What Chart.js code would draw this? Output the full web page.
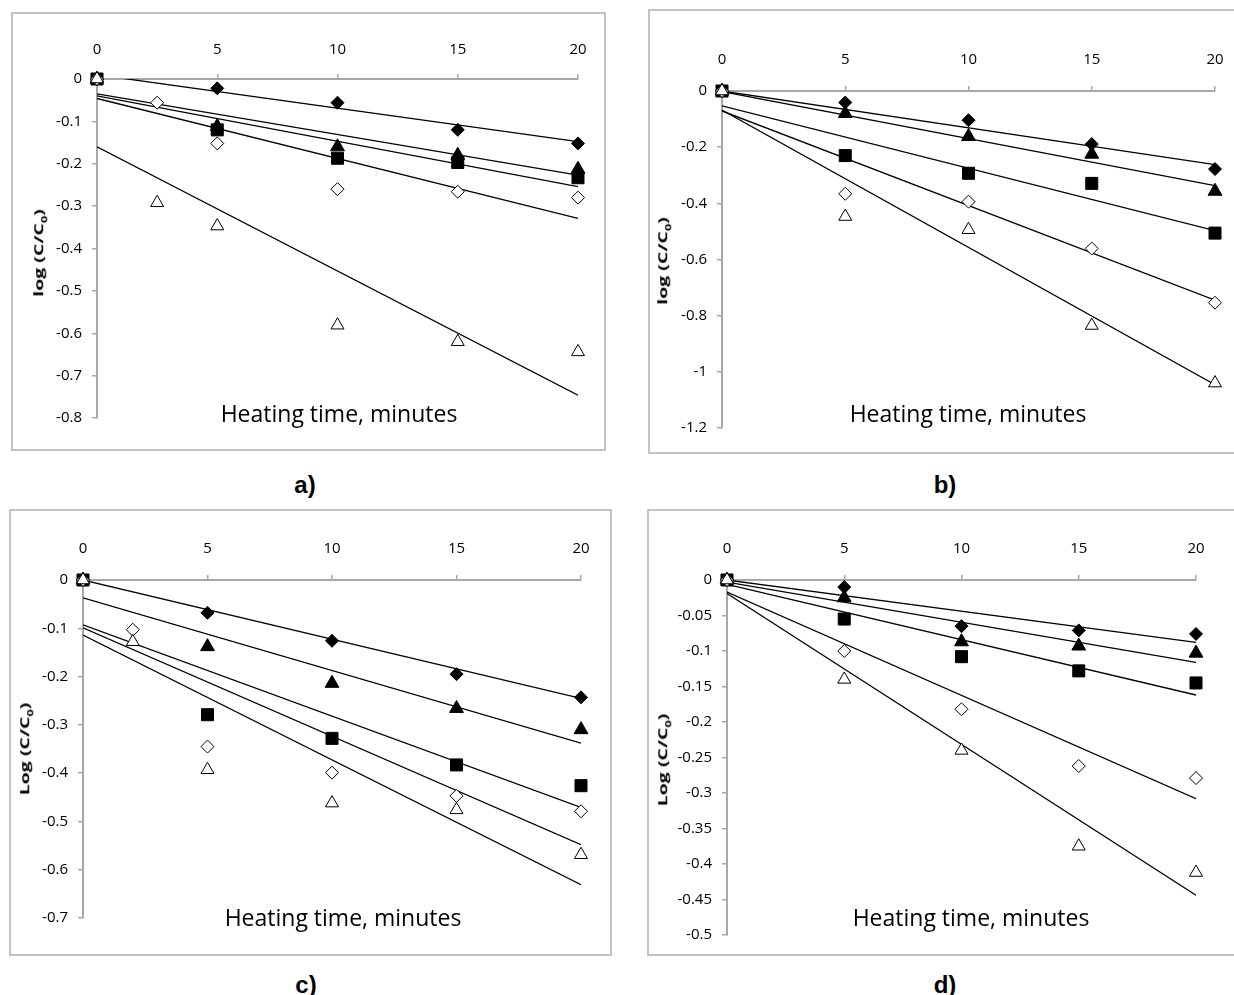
<!DOCTYPE html>
<html>
<head>
<meta charset="utf-8">
<script src="https://cdn.jsdelivr.net/npm/chart.js@4.4.1/dist/chart.umd.min.js"></script>
<style>
  html, body { margin: 0; padding: 0; background: #fff; overflow: hidden; }
  body { width: 1234px; height: 995px; position: relative; font-family: 'Open Sans', sans-serif; }
  .panel { position: absolute; border: 2px solid #c3c3c3; box-sizing: border-box; background: #fff; }
  .panel canvas { position: absolute; left: 0; top: 0; }
  .xtitle { position: absolute; font-size: 23px; color: #000; white-space: nowrap; transform: translate(-50%, -50%); }
  .ytitle { position: absolute; font: bold 13px 'Open Sans', sans-serif; color: #000; white-space: nowrap;
            transform: translate(-50%, -50%) rotate(-90deg) scaleX(1.5); }
  .ytitle sub { font-size: 8.5px; }
  .tag { position: absolute; font: bold 24px 'Liberation Sans', Arial, sans-serif; color: #000; transform: translate(-50%, -50%); }
</style>
</head>
<body>
<script>
// heating time (min)
const timeMain = [0, 5, 10, 15, 20];
const timeA = [0, 2.5, 5, 10, 15, 20];
const timeC = [0, 2, 5, 10, 15, 20];
const fitX = [0, 20];

// panel a) log(C/C0)
const aDiamond = [0, -0.022, -0.056, -0.120, -0.152];
const aTriangle = [0, -0.112, -0.160, -0.180, -0.213];
const aSquare = [0, -0.120, -0.187, -0.197, -0.233];
const aOpenDiamond = [0, -0.056, -0.152, -0.260, -0.266, -0.280];
const aOpenTriangle = [0, -0.292, -0.347, -0.581, -0.620, -0.644];
const aFitStart = [0.010, -0.035, -0.040, -0.046, -0.160];
const aFitEnd = [-0.148, -0.227, -0.254, -0.329, -0.746];

// panel b)
const bDiamond = [0, -0.041, -0.104, -0.189, -0.278];
const bTriangle = [0, -0.080, -0.162, -0.225, -0.357];
const bSquare = [0, -0.230, -0.293, -0.329, -0.506];
const bOpenDiamond = [0, -0.366, -0.394, -0.561, -0.754];
const bOpenTriangle = [0, -0.447, -0.494, -0.835, -1.040];
const bFitStart = [0.000, -0.002, -0.053, -0.071, -0.068];
const bFitEnd = [-0.262, -0.337, -0.497, -0.745, -1.046];

// panel c)
const cDiamond = [0, -0.068, -0.126, -0.195, -0.243];
const cTriangle = [0, -0.138, -0.214, -0.266, -0.310];
const cSquare = [0, -0.279, -0.328, -0.383, -0.426];
const cOpenDiamond = [0, -0.103, -0.345, -0.399, -0.447, -0.479];
const cOpenTriangle = [0, -0.128, -0.393, -0.462, -0.476, -0.569];
const cFitStart = [0.000, -0.037, -0.093, -0.099, -0.114];
const cFitEnd = [-0.245, -0.338, -0.471, -0.548, -0.631];

// panel d)
const dDiamond = [0, -0.010, -0.065, -0.071, -0.076];
const dTriangle = [0, -0.025, -0.087, -0.093, -0.103];
const dSquare = [0, -0.055, -0.108, -0.128, -0.145];
const dOpenDiamond = [0, -0.100, -0.182, -0.262, -0.279];
const dOpenTriangle = [0, -0.140, -0.240, -0.375, -0.412];
const dFitStart = [0.000, -0.003, -0.006, -0.017, -0.019];
const dFitEnd = [-0.088, -0.116, -0.162, -0.308, -0.444];

const seriesNames = ["filled diamond", "filled triangle", "filled square", "open diamond", "open triangle"];
const xTitleText = "Heating time, minutes";

const markers = [
  { style: "rectRot", radius: 6.5, fill: "#000", order: 4 },
  { style: "triangle", radius: 8, fill: "#000", order: 3 },
  { style: "rect", radius: 8.5, fill: "#000", order: 2 },
  { style: "rectRot", radius: 6.5, fill: "#fff", order: 1 },
  { style: "triangle", radius: 7.5, fill: "#fff", order: 0 },
];

const axisColor = "#a8a8a8";
const tickFont = { family: "'Open Sans', sans-serif", size: 15 };

const panels = [
  { tag: "a)", yWord: "log", box: [11, 12, 606, 451], area: [97, 79, 578, 418], yMin: -0.8, yStep: 0.1,
    series: [aDiamond, aTriangle, aSquare, aOpenDiamond, aOpenTriangle],
    times: [timeMain, timeMain, timeMain, timeA, timeA],
    fitStart: aFitStart, fitEnd: aFitEnd, xPad: 15,
    yTitleAt: [39, 253], xTitleAt: [339, 413], tagAt: [305, 485] },
  { tag: "b)", yWord: "log", box: [648, 9, 1270, 454], area: [722, 91, 1215, 428], yMin: -1.2, yStep: 0.2,
    series: [bDiamond, bTriangle, bSquare, bOpenDiamond, bOpenTriangle],
    times: [timeMain, timeMain, timeMain, timeMain, timeMain],
    fitStart: bFitStart, fitEnd: bFitEnd, xPad: 17,
    yTitleAt: [663, 261], xTitleAt: [968, 413], tagAt: [945, 485] },
  { tag: "c)", yWord: "Log", box: [9, 509, 612, 956], area: [83, 580, 581, 918], yMin: -0.7, yStep: 0.1,
    series: [cDiamond, cTriangle, cSquare, cOpenDiamond, cOpenTriangle],
    times: [timeMain, timeMain, timeMain, timeC, timeC],
    fitStart: cFitStart, fitEnd: cFitEnd, xPad: 17,
    yTitleAt: [25, 749], xTitleAt: [343, 917], tagAt: [306, 985] },
  { tag: "d)", yWord: "Log", box: [647, 509, 1270, 956], area: [727, 580, 1196, 940], yMin: -0.5, yStep: 0.05,
    series: [dDiamond, dTriangle, dSquare, dOpenDiamond, dOpenTriangle],
    times: [timeMain, timeMain, timeMain, timeMain, timeMain],
    fitStart: dFitStart, fitEnd: dFitEnd, xPad: 17,
    yTitleAt: [663, 760], xTitleAt: [971, 917], tagAt: [945, 985] },
];

function addText(cls, html, at) {
  const el = document.createElement("div");
  el.className = cls;
  el.innerHTML = html;
  el.style.left = at[0] + "px";
  el.style.top = at[1] + "px";
  document.body.appendChild(el);
}

panels.forEach((p) => {
  const [x0, y0, x1, y1] = p.box;
  const [L, T, R, B] = p.area;
  const div = document.createElement("div");
  div.className = "panel";
  div.style.left = x0 + "px";
  div.style.top = y0 + "px";
  div.style.width = x1 - x0 + "px";
  div.style.height = y1 - y0 + "px";
  const canvas = document.createElement("canvas");
  const cw = x1 - x0 - 4, chh = y1 - y0 - 4;
  canvas.width = cw;
  canvas.height = chh;
  canvas.style.width = cw + "px";
  canvas.style.height = chh + "px";
  div.appendChild(canvas);
  document.body.appendChild(div);

  const pointSets = p.series.map((vals, i) => ({
    label: seriesNames[i],
    data: vals.map((v, j) => ({ x: p.times[i][j], y: v })),
    showLine: false,
    pointStyle: markers[i].style,
    pointRadius: markers[i].radius,
    pointBackgroundColor: markers[i].fill,
    pointBorderColor: "#000",
    pointBorderWidth: 1,
    clip: false,
    order: markers[i].order,
  }));

  const fitSets = p.fitStart.map((s, i) => ({
    label: seriesNames[i] + " fit",
    data: [{ x: fitX[0], y: s }, { x: fitX[1], y: p.fitEnd[i] }],
    showLine: true,
    borderColor: "#000",
    borderWidth: 1.3,
    pointRadius: 0,
    clip: 0,
    order: 10,
  }));

  new Chart(canvas.getContext("2d"), {
    type: "scatter",
    data: { datasets: [...pointSets, ...fitSets] },
    options: {
      responsive: false,
      maintainAspectRatio: false,
      animation: false,
      events: [],
      layout: { padding: { left: 0, top: 0, right: x1 - 2 - R, bottom: y1 - 2 - B } },
      plugins: { legend: { display: false }, tooltip: { enabled: false } },
      scales: {
        x: {
          type: "linear",
          position: "top",
          min: 0,
          max: 20,
          ticks: { stepSize: 5, color: "#000", font: tickFont, padding: p.xPad, maxRotation: 0 },
          grid: { drawOnChartArea: false, drawTicks: true, tickLength: 5, color: axisColor, lineWidth: 1.5 },
          border: { display: true, color: axisColor, width: 2 },
          afterFit: (s) => { s.height = T - (y0 + 2); },
        },
        y: {
          type: "linear",
          position: "left",
          min: p.yMin,
          max: 0,
          ticks: {
            stepSize: p.yStep,
            color: "#000",
            font: tickFont,
            padding: 10,
            callback: (v) => String(+v.toFixed(2)),
          },
          grid: { drawOnChartArea: false, drawTicks: true, tickLength: 5, color: axisColor, lineWidth: 1.5 },
          border: { display: true, color: axisColor, width: 2 },
          afterFit: (s) => { s.width = L - (x0 + 2); },
        },
      },
    },
  });

  addText("xtitle", xTitleText, p.xTitleAt);
  addText("ytitle", p.yWord + " (C/C<sub>0</sub>)", p.yTitleAt);
  addText("tag", p.tag, p.tagAt);
});
</script>
</body>
</html>
